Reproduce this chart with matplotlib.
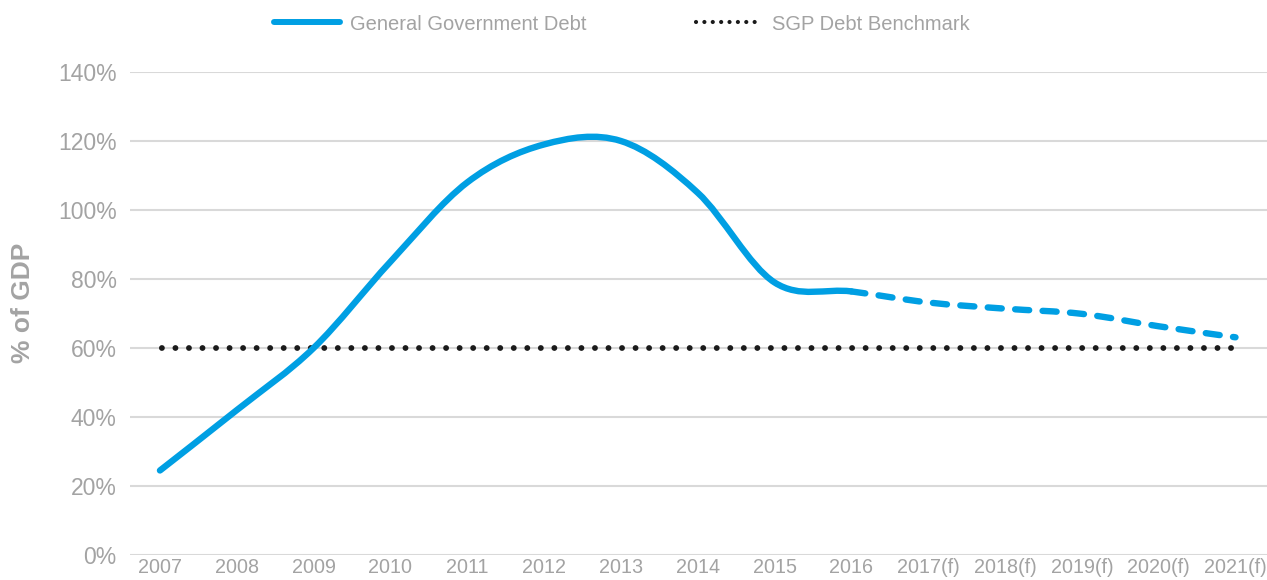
import matplotlib
matplotlib.use("Agg")
from matplotlib import pyplot as plt
from matplotlib.path import Path
from matplotlib.patches import PathPatch
from matplotlib.lines import Line2D
import numpy as np

plt.rcParams['font.family'] = ['Liberation Sans', 'DejaVu Sans']

# data
years = ['2007', '2008', '2009', '2010', '2011', '2012', '2013', '2014',
         '2015', '2016', '2017(f)', '2018(f)', '2019(f)', '2020(f)', '2021(f)']
gov_debt = [24.5, 42, 60, 85, 108, 119, 120, 105, 79, 76.4, 73.2, 71.4, 69.9, 66.3, 63.1]
benchmark = [60] * len(years)
n_actual = 10  # 2007-2016 actual, rest forecast

BLUE = '#009fe3'
GREY = '#a3a3a3'
GRID = '#d9d9d9'


def smooth_path(xs, ys, i0, i1):
    # Catmull-Rom style bezier segments (like Excel's smoothed line)
    n = len(xs)
    verts = [(xs[i0], ys[i0])]
    codes = [Path.MOVETO]
    for i in range(i0, i1):
        pm = max(i - 1, 0)
        pp = min(i + 2, n - 1)
        c1 = (xs[i] + (xs[i + 1] - xs[pm]) / 6, ys[i] + (ys[i + 1] - ys[pm]) / 6)
        c2 = (xs[i + 1] - (xs[pp] - xs[i]) / 6, ys[i + 1] - (ys[pp] - ys[i]) / 6)
        verts += [c1, c2, (xs[i + 1], ys[i + 1])]
        codes += [Path.CURVE4] * 3
    return Path(verts, codes)


fig = plt.figure(figsize=(12.67, 5.8), dpi=100)
ax = fig.add_axes([130 / 1267, 25 / 580, 1 - 130 / 1267, 483 / 580])

x = np.arange(len(years))

ax.plot(x, benchmark, color='#1a1a1a', lw=4.2, linestyle=(2, (0.01, 2.31)),
        dash_capstyle='round', zorder=3)

solid = PathPatch(smooth_path(x, gov_debt, 0, n_actual - 1), fc='none', ec=BLUE,
                  lw=4.6, capstyle='round', joinstyle='round', zorder=4)
ax.add_patch(solid)
dashed = PathPatch(smooth_path(x, gov_debt, n_actual - 1, len(years) - 1), fc='none',
                   ec=BLUE, lw=4.6, linestyle=(0, (2.2, 2.1)), capstyle='round', zorder=4)
ax.add_patch(dashed)

ax.set_xlim(-0.39, len(years) - 1 + 0.41)
ax.set_ylim(0, 140)
ax.set_yticks(range(0, 141, 20))
ax.set_yticklabels([f'{v}%' for v in range(0, 141, 20)])
ax.set_xticks(x)
ax.set_xticklabels(years)

ax.grid(axis='y', color=GRID, lw=1.5)
ax.set_axisbelow(True)
for s in ax.spines.values():
    s.set_visible(False)
ax.tick_params(length=0, colors=GREY)
ax.tick_params(axis='y', pad=9.5, labelsize=16.5)
ax.tick_params(axis='x', pad=2.5, labelsize=14.2)

fig.text(23 / 1267, 1 - 303 / 580, '% of GDP', rotation=90, ha='center', va='center',
         color=GREY, fontsize=19, fontweight='bold')

handles = [Line2D([], [], color=BLUE, lw=4.3, solid_capstyle='round'),
           Line2D([], [], color='#1a1a1a', lw=3.0, linestyle=(0, (0.01, 2.0)),
                  dash_capstyle='round')]
fig.legend(handles, ['General Government Debt', 'SGP Debt Benchmark'],
           loc='center', bbox_to_anchor=(622 / 1267, 1 - 24 / 580), ncol=2,
           frameon=False, fontsize=14.5, labelcolor=GREY, handlelength=3.3,
           handletextpad=0.5, columnspacing=5.4)

fig.savefig('out.png', dpi=100)
